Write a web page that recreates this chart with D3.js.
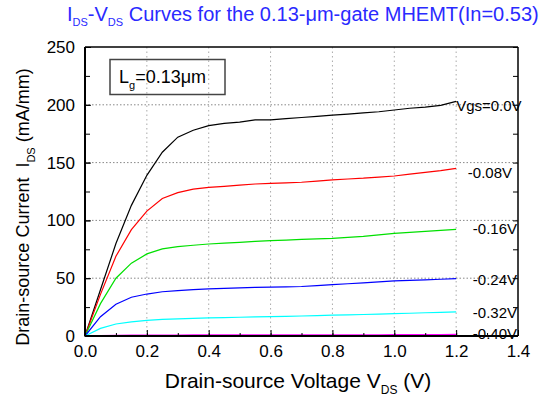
<!DOCTYPE html>
<html><head><meta charset="utf-8">
<script src="https://cdn.jsdelivr.net/npm/d3@7"></script>
<style>body{margin:0;background:#fff}svg{display:block}text{font-family:Arial,"Liberation Sans",sans-serif}</style>
</head><body><svg id="c" width="552" height="396"></svg>
<script>
const vds = [0,0.05,0.1,0.15,0.2,0.25,0.3,0.35,0.4,0.45,0.5,0.55,0.6,0.65,0.7,0.75,0.8,0.85,0.9,0.95,1.0,1.05,1.1,1.15,1.2];
const vgsLabels = ["Vgs=0.0V","-0.08V","-0.16V","-0.24V","-0.32V","-0.40V"];
const colors = ["#000000","#ff0000","#00e000","#0000ff","#00ffff","#ff00ff"];
const ids00 = [0,40,80,113,139,159,172,178,182,184,185,187,187,188,189,190,191,192,193,194,195.5,197,198,199.5,203];
const ids08 = [0,36,69,92,108,119,124,127,128.6,129.5,130.5,131.5,132,132.5,133,134,135,135.8,136.5,137.5,138.4,140,141.5,143,145];
const ids16 = [0,28,50,63,71,75.3,77.3,78.5,79.6,80.3,81,81.8,82.5,83,83.5,84,84.5,85.3,86.2,87.5,88.8,89.7,90.5,91.3,92.3];
const ids24 = [0,16.7,27.4,33.5,36.3,38.3,39.3,40.1,40.7,41.2,41.6,42,42.3,42.5,42.8,43.5,44.4,45.2,46,46.8,47.6,48.1,48.6,49.1,49.6];
const ids32 = [0,6.6,10.4,12.3,13.5,14.3,14.8,15.2,15.6,15.9,16.2,16.5,16.8,17,17.3,17.6,18,18.3,18.6,18.9,19.3,19.7,20.1,20.5,20.8];
const ids40 = [0,0.4,0.6,0.7,0.8,0.8,0.8,0.9,0.9,0.9,0.9,0.9,0.9,1.0,1.0,1.0,1.0,1.1,1.1,1.1,1.2,1.2,1.3,1.3,1.4];
const series = [ids00,ids08,ids16,ids24,ids32,ids40];
const xTicks = [0,0.2,0.4,0.6,0.8,1.0,1.2,1.4];
const yTicks = [0,50,100,150,200,250];

const svg = d3.select("#c");
const L=85,R=518,T=47,B=336;
const x = d3.scaleLinear().domain([0,1.4]).range([L,R]);
const y = d3.scaleLinear().domain([0,250]).range([B,T]);

// grid
const g = svg.append("g");
g.selectAll("line.vx").data(xTicks.filter(d=>d>0&&d<1.4)).enter().append("line")
 .attr("x1",d=>x(d)).attr("x2",d=>x(d)).attr("y1",T).attr("y2",B)
 .attr("stroke","#aaa").attr("stroke-width",1).attr("stroke-dasharray","1.5,3");
g.selectAll("line.hy").data(yTicks.filter(d=>d>0&&d<250)).enter().append("line")
 .attr("x1",L).attr("x2",R).attr("y1",d=>y(d)).attr("y2",d=>y(d))
 .attr("stroke","#888").attr("stroke-width",1).attr("stroke-dasharray","1.5,2");

// curves
const line = d3.line().x((d,i)=>x(vds[i])).y(d=>y(d));
series.forEach((s,k)=>{
  svg.append("path").datum(s).attr("d",line).attr("fill","none")
   .attr("stroke",colors[k]).attr("stroke-width",1.2);
});

// axes
const xMinor = d3.range(0,1.41,0.1);
const yMinor = d3.range(0,251,25);
const bottom = svg.append("g").attr("transform",`translate(0,${B})`)
 .call(d3.axisBottom(x).tickValues(xMinor).tickSize(-3).tickFormat(""));
const bottomMaj = svg.append("g").attr("transform",`translate(0,${B})`)
 .call(d3.axisBottom(x).tickValues(xTicks).tickSize(-6).tickPadding(9).tickFormat(d3.format(".1f")));
const left = svg.append("g").attr("transform",`translate(${L},0)`)
 .call(d3.axisLeft(y).tickValues(yMinor).tickSize(-5).tickFormat(""));
const leftMaj = svg.append("g").attr("transform",`translate(${L},0)`)
 .call(d3.axisLeft(y).tickValues(yTicks).tickSize(-6).tickPadding(10).tickFormat(d3.format("d")));
const right = svg.append("g").attr("transform",`translate(${R},0)`)
 .call(d3.axisRight(y).tickValues(yMinor).tickSize(-5).tickFormat(""));
[bottom,bottomMaj,left,leftMaj,right].forEach(a=>{
  a.select(".domain").remove();
  a.selectAll("line").attr("stroke","#000").attr("stroke-width",1);
  a.selectAll("text").attr("font-size",17).attr("fill","#000").attr("font-family","Arial, Liberation Sans, sans-serif");
});
// frame
svg.append("line").attr("x1",L).attr("x2",R).attr("y1",T).attr("y2",T).attr("stroke","#000").attr("stroke-width",1.5);
svg.append("line").attr("x1",R).attr("x2",R).attr("y1",T).attr("y2",B).attr("stroke","#000").attr("stroke-width",1.5);
svg.append("line").attr("x1",L-0.5).attr("x2",R).attr("y1",B).attr("y2",B).attr("stroke","#000").attr("stroke-width",2);
svg.append("line").attr("x1",L).attr("x2",L).attr("y1",T).attr("y2",B).attr("stroke","#000").attr("stroke-width",2);

// curve labels
const lab = svg.append("g").attr("font-size",15).attr("fill","#000");
const labY = [105,172,228,279,312,333];
vgsLabels.forEach((t,k)=>{
  lab.append("text").attr("x", k===0 ? x(1.2) : (k===1 ? 512 : 517)).attr("y", labY[k]+5.5)
   .attr("text-anchor", k===0 ? "start":"end").text(t);
});

// Lg box
svg.append("rect").attr("x",110).attr("y",59.5).attr("width",115).attr("height",35)
 .attr("fill","none").attr("stroke","#444").attr("stroke-width",1.5);
const lg = svg.append("text").attr("x",119).attr("y",82.5).attr("font-size",18).attr("fill","#000");
lg.append("tspan").text("L");
lg.append("tspan").attr("font-size",11).attr("dy",6).text("g");
lg.append("tspan").attr("dy",-6).text("=0.13\u03bcm");

// title
const tt = svg.append("text").attr("x",67).attr("y",21).attr("font-size",20).attr("fill","#2a2aff");
tt.append("tspan").text("I");
tt.append("tspan").attr("font-size",11).attr("dy",5).text("DS");
tt.append("tspan").attr("dy",-5).text("-V");
tt.append("tspan").attr("font-size",11).attr("dy",5).text("DS");
tt.append("tspan").attr("dy",-5).text(" Curves for the 0.13-\u03bcm-gate MHEMT(In=0.53)");

// x label
const xl = svg.append("text").attr("x",298).attr("y",388).attr("text-anchor","middle").attr("font-size",21).attr("fill","#000");
xl.append("tspan").text("Drain-source Voltage V");
xl.append("tspan").attr("font-size",12).attr("dy",6).text("DS");
xl.append("tspan").attr("dy",-6).text(" (V)");

// y label
const yl = svg.append("text").attr("transform","translate(28.5,207) rotate(-90)").attr("text-anchor","middle").attr("font-size",18).attr("fill","#000");
yl.append("tspan").text("Drain-source Current \u00a0I");
yl.append("tspan").attr("font-size",11).attr("dy",6).text("DS");
yl.append("tspan").attr("dy",-6).text(" (mA/mm)");
</script></body></html>
